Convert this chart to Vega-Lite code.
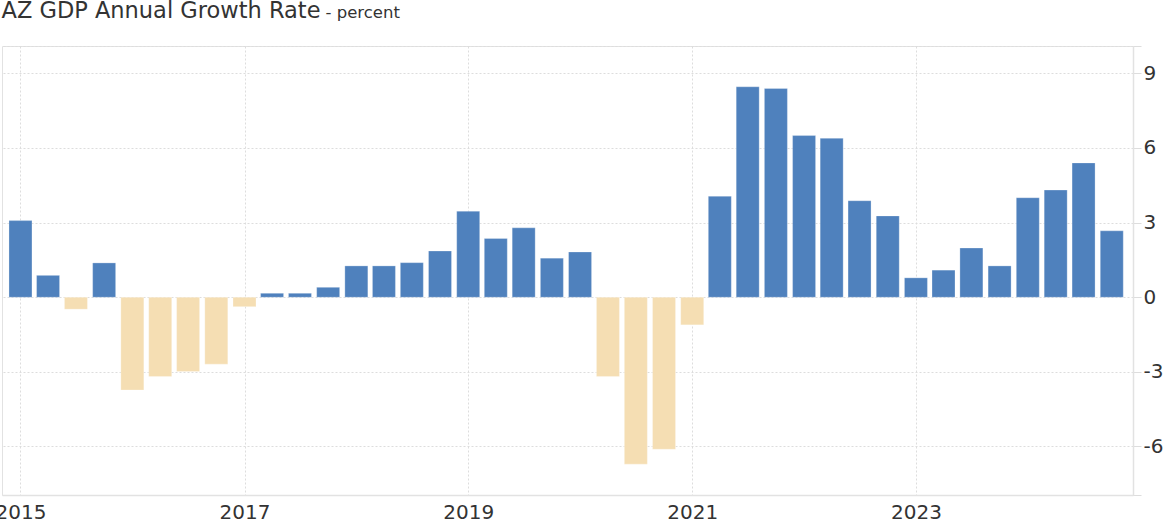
{
  "$schema": "https://vega.github.io/schema/vega-lite/v6.json",
  "autosize": "none",
  "width": 1131,
  "height": 449,
  "padding": {"left": 2, "top": 46, "right": 34, "bottom": 30},
  "background": "#ffffff",
  "config": {
    "view": {"stroke": "#e2e2e2", "strokeWidth": 1},
    "axis": {"labelFont": "DejaVu Sans", "labelFontSize": 20, "labelColor": "#333333"}
  },
  "data": {
    "values": [
      {"date": "2015-01-01", "value": 3.08},
      {"date": "2015-04-01", "value": 0.88},
      {"date": "2015-07-01", "value": -0.48},
      {"date": "2015-10-01", "value": 1.38},
      {"date": "2016-01-01", "value": -3.73},
      {"date": "2016-04-01", "value": -3.19},
      {"date": "2016-07-01", "value": -2.99},
      {"date": "2016-10-01", "value": -2.69},
      {"date": "2017-01-01", "value": -0.38},
      {"date": "2017-04-01", "value": 0.16},
      {"date": "2017-07-01", "value": 0.16},
      {"date": "2017-10-01", "value": 0.40},
      {"date": "2018-01-01", "value": 1.26},
      {"date": "2018-04-01", "value": 1.26},
      {"date": "2018-07-01", "value": 1.39},
      {"date": "2018-10-01", "value": 1.86},
      {"date": "2019-01-01", "value": 3.46},
      {"date": "2019-04-01", "value": 2.36},
      {"date": "2019-07-01", "value": 2.79},
      {"date": "2019-10-01", "value": 1.57},
      {"date": "2020-01-01", "value": 1.82},
      {"date": "2020-04-01", "value": -3.19},
      {"date": "2020-07-01", "value": -6.71},
      {"date": "2020-10-01", "value": -6.11},
      {"date": "2021-01-01", "value": -1.11},
      {"date": "2021-04-01", "value": 4.06},
      {"date": "2021-07-01", "value": 8.46},
      {"date": "2021-10-01", "value": 8.39},
      {"date": "2022-01-01", "value": 6.50},
      {"date": "2022-04-01", "value": 6.39},
      {"date": "2022-07-01", "value": 3.88},
      {"date": "2022-10-01", "value": 3.27},
      {"date": "2023-01-01", "value": 0.78},
      {"date": "2023-04-01", "value": 1.09},
      {"date": "2023-07-01", "value": 1.98},
      {"date": "2023-10-01", "value": 1.26},
      {"date": "2024-01-01", "value": 4.00},
      {"date": "2024-04-01", "value": 4.31},
      {"date": "2024-07-01", "value": 5.40},
      {"date": "2024-10-01", "value": 2.67}
    ]
  },
  "mark": {"type": "bar", "width": 23, "stroke": "#ffffff", "strokeOpacity": 0.35, "strokeWidth": 0.8},
  "encoding": {
    "x": {
      "field": "date",
      "type": "temporal",
      "scale": {
        "type": "utc",
        "domain": [
          {"year": 2014, "month": 11, "date": 18, "utc": true},
          {"year": 2024, "month": 11, "date": 23, "utc": true}
        ]
      },
      "axis": {
        "title": "AZ GDP Annual Growth Rate",
        "titleX": -1,
        "titleY": -478,
        "titleAlign": "left",
        "titleBaseline": "alphabetic",
        "titleAngle": 0,
        "titleFont": "DejaVu Sans",
        "titleFontSize": 22.5,
        "titleFontWeight": "normal",
        "titleColor": "#333333",
        "values": [
          {"year": 2015, "month": 1, "date": 1, "utc": true},
          {"year": 2017, "month": 1, "date": 1, "utc": true},
          {"year": 2019, "month": 1, "date": 1, "utc": true},
          {"year": 2021, "month": 1, "date": 1, "utc": true},
          {"year": 2023, "month": 1, "date": 1, "utc": true}
        ],
        "format": "%Y",
        "formatType": "utc",
        "labelFlush": false,
        "labelOverlap": false,
        "labelBound": false,
        "ticks": false,
        "tickSize": 0,
        "labelPadding": 7,
        "domain": true,
        "domainColor": "#e2e2e2",
        "domainWidth": 1.5,
        "grid": true,
        "gridColor": "#dddddd",
        "gridDash": [2, 2],
        "gridWidth": 1
      }
    },
    "y": {
      "field": "value",
      "type": "quantitative",
      "scale": {"domain": [-7.95, 10.1], "nice": false, "zero": true},
      "axis": {
        "orient": "right",
        "title": " - percent",
        "titleAngle": 0,
        "titleAlign": "left",
        "titleBaseline": "alphabetic",
        "titleX": -808,
        "titleY": -29,
        "titleFont": "DejaVu Sans",
        "titleFontSize": 16.5,
        "titleFontWeight": "normal",
        "titleColor": "#333333",
        "values": [-7.95, -6, -3, 0, 3, 6, 9, 10.1],
        "labelExpr": "(datum.value < -7 || datum.value > 10) ? '' : ('' + datum.value)",
        "labelOverlap": false,
        "labelBound": false,
        "labelPadding": 2,
        "tickSize": 8,
        "tickColor": "#dddddd",
        "domain": true,
        "domainColor": "#e2e2e2",
        "domainWidth": 1.5,
        "grid": true,
        "gridColor": "#dddddd",
        "gridDash": [2, 2],
        "gridWidth": 1
      }
    },
    "color": {
      "condition": {"test": "datum.value < 0", "value": "#f5deb3"},
      "value": "#4f81bd"
    }
  }
}
